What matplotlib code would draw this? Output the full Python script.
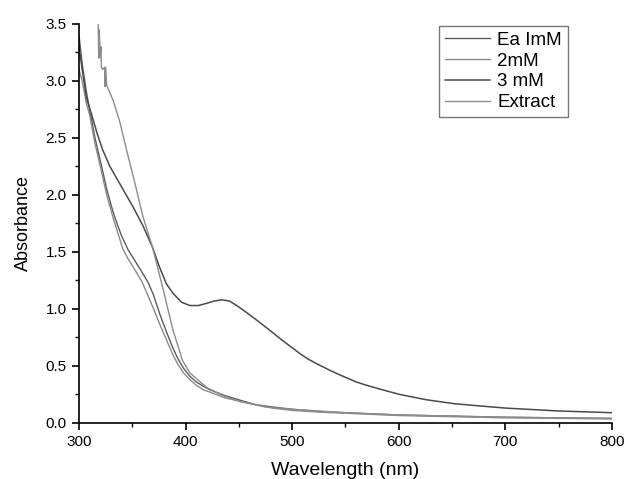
import matplotlib
matplotlib.use("Agg")
import matplotlib.pyplot as plt
from matplotlib.ticker import MultipleLocator

plt.rcParams['font.family'] = ['Liberation Sans', 'DejaVu Sans']

# UV-vis spectra
wl_3mm = [300, 303, 307, 312, 317, 322, 329, 340, 351, 360, 369, 375, 382, 388, 396,
          404, 412, 420, 427, 434, 441, 448, 457, 467, 478, 490, 500, 507, 515, 525,
          538, 550, 560, 570, 585, 601, 625, 651, 675, 701, 750, 800]
abs_3mm = [3.30, 3.10, 2.85, 2.70, 2.54, 2.40, 2.25, 2.07, 1.89, 1.73, 1.54, 1.38, 1.22, 1.14, 1.06,
           1.03, 1.03, 1.05, 1.07, 1.08, 1.07, 1.03, 0.97, 0.90, 0.82, 0.73, 0.66, 0.61, 0.56, 0.51,
           0.45, 0.40, 0.36, 0.33, 0.29, 0.25, 0.205, 0.17, 0.15, 0.13, 0.105, 0.09]

wl_extract = [318, 318.5, 319, 320, 320.5, 321, 322, 324, 324.5, 325, 326, 327, 332, 338, 345,
              352, 360, 369, 379, 388, 397, 404, 410, 420, 435, 450, 475, 500, 550, 600,
              700, 800]
abs_extract = [3.50, 3.20, 3.45, 3.21, 3.30, 3.12, 3.10, 3.12, 2.95, 3.12, 2.96, 2.94, 2.83, 2.65, 2.38,
               2.12, 1.81, 1.54, 1.17, 0.82, 0.55, 0.44, 0.39, 0.31, 0.24, 0.19, 0.14, 0.12, 0.09, 0.07,
               0.05, 0.04]

wl_1mm = [300, 303, 307, 310, 315, 320, 326, 332, 336, 340, 346, 352, 358, 365, 370,
          376, 382, 388, 393, 398, 404, 410, 417, 423, 437, 451, 466, 482, 500, 526,
          550, 600, 700, 800]
abs_1mm = [3.40, 3.15, 2.90, 2.75, 2.50, 2.30, 2.05, 1.85, 1.74, 1.64, 1.52, 1.43, 1.34, 1.23, 1.12,
           0.95, 0.80, 0.66, 0.56, 0.48, 0.41, 0.36, 0.32, 0.29, 0.24, 0.20, 0.16, 0.14, 0.12, 0.10,
           0.09, 0.07, 0.05, 0.04]

wl_2mm = [300, 303, 307, 310, 315, 320, 326, 332, 336, 341, 346, 352, 359, 365, 370,
          376, 382, 388, 393, 398, 404, 410, 417, 423, 437, 451, 466, 482, 500, 526,
          550, 600, 700, 800]
abs_2mm = [3.10, 3.00, 2.80, 2.70, 2.45, 2.25, 2.00, 1.80, 1.68, 1.53, 1.44, 1.35, 1.24, 1.11, 1.00,
           0.86, 0.73, 0.60, 0.51, 0.44, 0.38, 0.33, 0.29, 0.27, 0.22, 0.19, 0.16, 0.13, 0.11, 0.095,
           0.085, 0.065, 0.045, 0.035]

fig = plt.figure(figsize=(6.27, 4.79), dpi=100)
ax = fig.add_axes([0.126, 0.117, 0.85, 0.833])

ax.plot(wl_1mm, abs_1mm, color='#5c5c5c', lw=1.0, label='Ea ImM')
ax.plot(wl_2mm, abs_2mm, color='#8a8a8a', lw=1.0, label='2mM')
ax.plot(wl_3mm, abs_3mm, color='#4a4a4a', lw=1.1, label='3 mM')
ax.plot(wl_extract, abs_extract, color='#8c8c8c', lw=1.0, label='Extract')

ax.set_xlim(300, 800)
ax.set_ylim(0, 3.5)
ax.xaxis.set_major_locator(MultipleLocator(100))
ax.xaxis.set_minor_locator(MultipleLocator(50))
ax.yaxis.set_major_locator(MultipleLocator(0.5))
ax.yaxis.set_minor_locator(MultipleLocator(0.25))

for s in ['top', 'right']:
    ax.spines[s].set_visible(False)
for s in ['left', 'bottom']:
    ax.spines[s].set_linewidth(1.2)

ax.tick_params(which='major', direction='out', length=5, width=1.2, labelsize=11, pad=4)
ax.tick_params(which='minor', direction='out', length=3, width=1.0)

ax.set_xlabel('Wavelength (nm)', fontsize=14, labelpad=9)
ax.set_ylabel('Absorbance', fontsize=13, labelpad=10)

leg = ax.legend(loc='upper right', bbox_to_anchor=(0.917, 0.995), fontsize=13.5,
                frameon=True, fancybox=False, edgecolor='#777777', framealpha=1,
                handlelength=2.4, handletextpad=0.4, labelspacing=0.2,
                borderpad=0.3, borderaxespad=0)
leg.get_frame().set_linewidth(1.0)

plt.savefig('out.png', dpi=100)
